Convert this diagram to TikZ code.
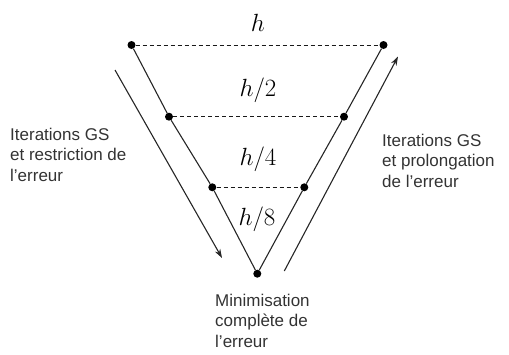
\documentclass[tikz,border=0pt]{standalone}
\usepackage{fontspec}
\setmainfont{Liberation Sans}
\usetikzlibrary{arrows.meta}
\begin{document}
\begin{tikzpicture}[x=1pt,y=-1pt,
  dot/.style={circle,fill=black,inner sep=0pt,minimum size=8pt},
  edge/.style={draw=black!85,line width=1.1pt},
  level/.style={draw=black!90,line width=0.9pt,dash pattern=on 4pt off 3pt},
  flow/.style={draw=black!85,line width=1.1pt,-{Stealth[length=9pt,width=6pt]}},
  lab/.style={anchor=base,inner sep=0pt,font=\fontsize{23}{23}\selectfont},
  txt/.style={align=left,inner sep=0pt,text=black!80,font=\fontsize{17}{20.5}\selectfont}]
\useasboundingbox (0,0) rectangle (509,354);
% dots
\node[dot] (a1) at (131.5,45) {};
\node[dot] (b1) at (383.5,45) {};
\node[dot] (a2) at (169,116.7) {};
\node[dot] (b2) at (344,116.7) {};
\node[dot] (a3) at (212.3,187.3) {};
\node[dot] (b3) at (304.3,187.3) {};
\node[dot] (c) at (257.3,273.7) {};
% V edges
\draw[edge] (a1) -- (a2) -- (a3) -- (c) -- (b3) -- (b2) -- (b1);
% dashed levels
\draw[level] (a1) -- (b1);
\draw[level] (a2) -- (b2);
\draw[level] (a3) -- (b3);
% labels
\node[lab] (l1) at (258,31.7) {$h$};
\node[lab] (l2) at (258,96.7) {$h/2$};
\node[lab] (l3) at (258,165) {$h/4$};
\node[lab] (l4) at (257,225) {$h/8$};
% arrows
\coordinate (d0) at (115,70);
\coordinate (d1) at (222,258);
\coordinate (u0) at (284.3,271);
\coordinate (u1) at (398,56.5);
\draw[flow] (d0) -- (d1);
\draw[flow] (u0) -- (u1);
% texts (base anchor = baseline of last line)
\node[txt,anchor=base west] (tl) at (10,181) {Iterations GS\\et restriction de\\l’erreur};
\node[txt,anchor=base west] (tr) at (382,187) {Iterations GS\\et prolongation\\de l’erreur};
\node[txt,anchor=base west] (tb) at (215,347) {Minimisation\\complète de\\l’erreur};
\end{tikzpicture}
\end{document}
